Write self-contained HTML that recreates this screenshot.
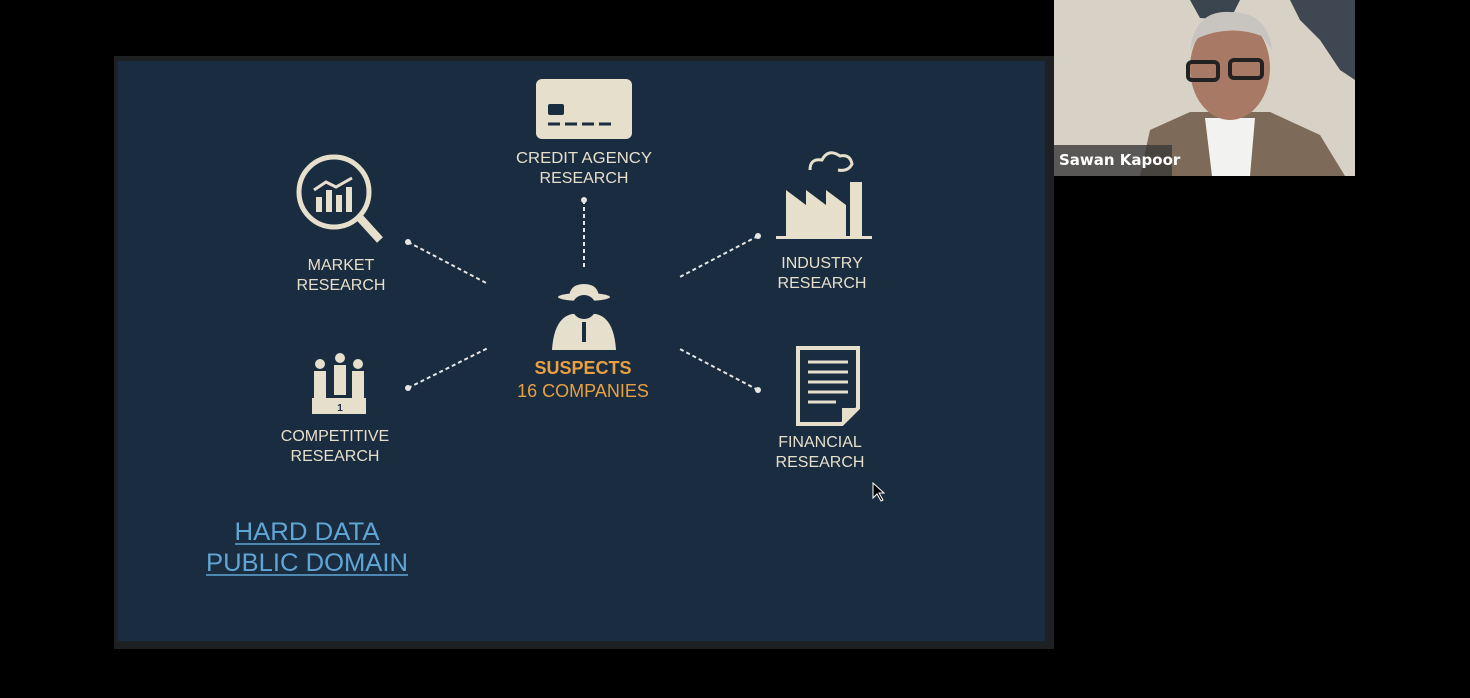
<!DOCTYPE html>
<html><head><style>
html,body{margin:0;padding:0;background:#000;width:1470px;height:698px;overflow:hidden}
</style></head><body>
<svg width="1470" height="698" viewBox="0 0 1470 698" xmlns="http://www.w3.org/2000/svg" font-family="Liberation Sans, Arial, sans-serif">
<rect width="1470" height="698" fill="#000"/>
<rect x="114" y="56" width="940" height="593" fill="#1e2124"/>
<rect x="118" y="61" width="927" height="580" fill="#1a2c40"/>
<g fill="#e6dfcb">
<rect x="536" y="79" width="96" height="60" rx="6"/>
<rect x="548" y="104" width="16" height="11" rx="2" fill="#1a2c40"/>
<g stroke="#1a2c40" stroke-width="3"><line x1="548" y1="124" x2="560" y2="124"/><line x1="565" y1="124" x2="577" y2="124"/><line x1="582" y1="124" x2="594" y2="124"/><line x1="599" y1="124" x2="611" y2="124"/></g>
</g>
<g stroke="#e6dfcb" fill="none" stroke-width="5">
<circle cx="334" cy="192" r="35"/>
<line x1="360" y1="218" x2="380" y2="240" stroke-width="8"/>
</g>
<g fill="#e6dfcb">
<rect x="316" y="197" width="6" height="15"/><rect x="326" y="190" width="6" height="22"/><rect x="336" y="195" width="6" height="17"/><rect x="346" y="187" width="6" height="25"/>
</g>
<polyline points="314,190 326,182 336,187 352,178" stroke="#e6dfcb" stroke-width="3" fill="none"/>
<g fill="#e6dfcb">
<circle cx="320" cy="364" r="5"/><rect x="314" y="371" width="12" height="30"/>
<circle cx="340" cy="358" r="5"/><rect x="334" y="365" width="12" height="30"/>
<circle cx="358" cy="364" r="5"/><rect x="352" y="371" width="12" height="30"/>
<rect x="312" y="398" width="54" height="16"/>
</g>
<text x="340" y="411" font-size="10" fill="#1a2c40" text-anchor="middle" font-weight="bold">1</text>
<g fill="#e6dfcb">
<path d="M786 236 L786 190 L806 205 L806 190 L826 205 L826 190 L846 205 L846 236 Z"/>
<rect x="850" y="182" width="12" height="54"/>
<rect x="776" y="236" width="96" height="3"/>
</g>
<path d="M810 170 q0 -12 12 -10 q6 -12 18 -4 q10 -2 12 8 q-4 8 -14 6" stroke="#e6dfcb" stroke-width="3" fill="none"/>
<path d="M798 348 H858 V408 L842 424 H798 Z" fill="none" stroke="#e6dfcb" stroke-width="4"/>
<path d="M842 424 L842 408 H858" fill="#e6dfcb"/>
<g stroke="#e6dfcb" stroke-width="3"><line x1="808" y1="362" x2="848" y2="362"/><line x1="808" y1="372" x2="848" y2="372"/><line x1="808" y1="382" x2="848" y2="382"/><line x1="808" y1="392" x2="848" y2="392"/><line x1="808" y1="402" x2="836" y2="402"/></g>
<g fill="#e6dfcb">
<ellipse cx="584" cy="297" rx="26" ry="4"/>
<path d="M569 297 Q570 284 584 284 Q598 284 599 297 Z"/>
<path d="M552 350 Q554 318 572 314 L596 314 Q614 318 616 350 Z"/>
<ellipse cx="584" cy="307" rx="12" ry="12" fill="#1a2c40"/>
<rect x="582" y="322" width="4" height="20" fill="#1a2c40"/>
</g>
<g stroke="#e6e6e6" stroke-width="2" stroke-dasharray="4,3" fill="none">
<line x1="584" y1="200" x2="584" y2="268"/>
<line x1="408" y1="242" x2="488" y2="284"/>
<line x1="408" y1="388" x2="488" y2="348"/>
<line x1="758" y1="236" x2="678" y2="278"/>
<line x1="758" y1="390" x2="678" y2="348"/>
</g>
<g fill="#e6e6e6"><circle cx="584" cy="200" r="3"/><circle cx="408" cy="242" r="3"/><circle cx="408" cy="388" r="3"/><circle cx="758" cy="236" r="3"/><circle cx="758" cy="390" r="3"/></g>
<g fill="#e6dfcb" font-size="16" text-anchor="middle">
<text x="584" y="163" textLength="136" lengthAdjust="spacingAndGlyphs">CREDIT AGENCY</text><text x="584" y="183">RESEARCH</text>
<text x="341" y="270">MARKET</text><text x="341" y="290">RESEARCH</text>
<text x="335" y="441">COMPETITIVE</text><text x="335" y="461">RESEARCH</text>
<text x="822" y="268">INDUSTRY</text><text x="822" y="288">RESEARCH</text>
<text x="820" y="447">FINANCIAL</text><text x="820" y="467">RESEARCH</text>
</g>
<text x="583" y="374" fill="#e8a040" font-size="18" text-anchor="middle" font-weight="bold">SUSPECTS</text>
<text x="583" y="397" fill="#e8a040" font-size="18" text-anchor="middle">16 COMPANIES</text>
<g fill="#5fa6d6" font-size="25" text-anchor="middle">
<text x="307" y="540" textLength="145" lengthAdjust="spacingAndGlyphs">HARD DATA</text><text x="307" y="571" textLength="202" lengthAdjust="spacingAndGlyphs">PUBLIC DOMAIN</text>
</g>
<line x1="235" y1="544" x2="380" y2="544" stroke="#5fa6d6" stroke-width="1.5"/>
<line x1="206" y1="575" x2="408" y2="575" stroke="#5fa6d6" stroke-width="1.5"/>
<path d="M873 483 L873 498 L877 494 L881 501 L883 500 L879 493 L884 493 Z" fill="#000" stroke="#fff" stroke-width="1"/>
<rect x="1054" y="0" width="301" height="176" fill="#d8d2c6"/>
<path d="M1190 0 L1240 0 L1230 20 L1200 18 Z" fill="#3a4550"/>
<path d="M1290 0 L1355 0 L1355 80 L1340 70 L1320 40 L1300 20 Z" fill="#3e4752"/>
<path d="M1140 176 L1150 130 L1190 112 L1270 112 L1320 135 L1345 176 Z" fill="#7d6a58"/>
<path d="M1205 118 L1255 118 L1250 176 L1212 176 Z" fill="#f2f2f0"/>
<ellipse cx="1230" cy="68" rx="40" ry="52" fill="#a87a65"/>
<path d="M1190 50 Q1195 10 1230 12 Q1268 12 1272 50 L1262 36 Q1230 24 1198 38 Z" fill="#c8c4c0"/>
<rect x="1188" y="62" width="30" height="18" rx="4" fill="none" stroke="#222" stroke-width="4"/>
<rect x="1230" y="60" width="32" height="18" rx="4" fill="none" stroke="#222" stroke-width="4"/>
<rect x="1054" y="145" width="118" height="31" fill="#3a3a3a" opacity="0.8"/>
<text x="1059" y="165" fill="#fff" font-size="15" font-weight="bold" font-family="DejaVu Sans, sans-serif">Sawan Kapoor</text>
</svg>
</body></html>
